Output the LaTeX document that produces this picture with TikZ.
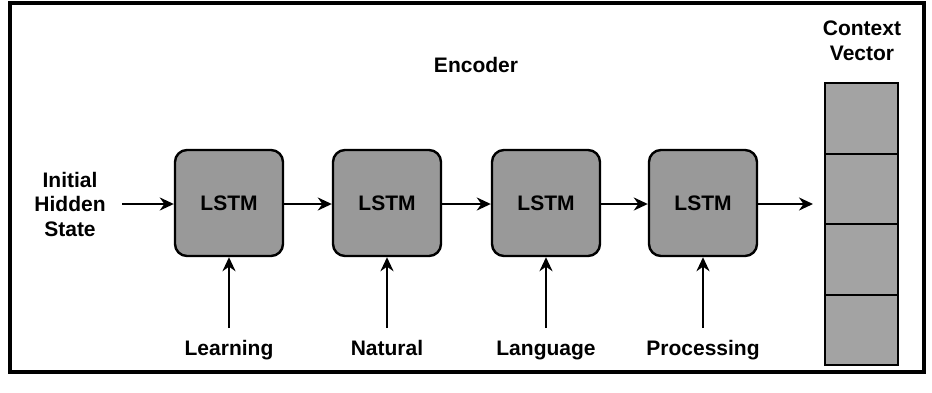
\documentclass[tikz,border=0pt]{standalone}
\usepackage{fontspec}
\setmainfont{Liberation Sans}
\usetikzlibrary{arrows.meta}
\begin{document}
\begin{tikzpicture}[x=1pt,y=-1pt,
  lbl/.style={font=\bfseries\fontsize{21}{24.5}\selectfont, align=center, inner sep=0pt},
  lstm/.style={draw=black, line width=2.4pt, fill=black!40, rounded corners=12pt, minimum width=108pt, minimum height=106pt, inner sep=0pt, font=\bfseries\fontsize{21}{24}\selectfont},
  cell/.style={draw=black, line width=2pt, fill=black!36, minimum width=73pt, minimum height=70.5pt, inner sep=0pt},
  arr/.style={line width=2.8pt, -{Stealth[length=14pt,width=13pt]}}
]
\useasboundingbox (0,0) rectangle (932,392);
\draw[line width=3.5pt] (10,3) rectangle (924,372);
% LSTM nodes
\node[lstm] (l1) at (229,203) {LSTM};
\node[lstm] (l2) at (387,203) {LSTM};
\node[lstm] (l3) at (546,203) {LSTM};
\node[lstm] (l4) at (703,203) {LSTM};
% context vector cells
\node[cell] (c1) at (861.5,118.25) {};
\node[cell] (c2) at (861.5,188.75) {};
\node[cell] (c3) at (861.5,259.25) {};
\node[cell] (c4) at (861.5,329.75) {};
% labels
\node[lbl, anchor=base] (enc) at (476,72) {Encoder};
\node[lbl, anchor=base] (cv) at (862,60) {Context\\Vector};
\node[lbl, anchor=base] (init) at (70,236) {Initial\\Hidden\\State};
\node[lbl, anchor=base] (w1) at (229,355) {Learning};
\node[lbl, anchor=base] (w2) at (387,355) {Natural};
\node[lbl, anchor=base] (w3) at (546,355) {Language};
\node[lbl, anchor=base] (w4) at (703,355) {Processing};
\coordinate (s0) at (122,204);
\coordinate (e0) at (813,204);
% arrows
\draw[arr] (s0) -- (l1.west |- s0);
\draw[arr] (l1.east |- s0) -- (l2.west |- s0);
\draw[arr] (l2.east |- s0) -- (l3.west |- s0);
\draw[arr] (l3.east |- s0) -- (l4.west |- s0);
\draw[arr] (l4.east |- s0) -- (e0);
\foreach \i in {1,2,3,4}{
  \draw[arr] (l\i.south |- 0,328) -- (l\i.south);
}
\end{tikzpicture}
\end{document}
